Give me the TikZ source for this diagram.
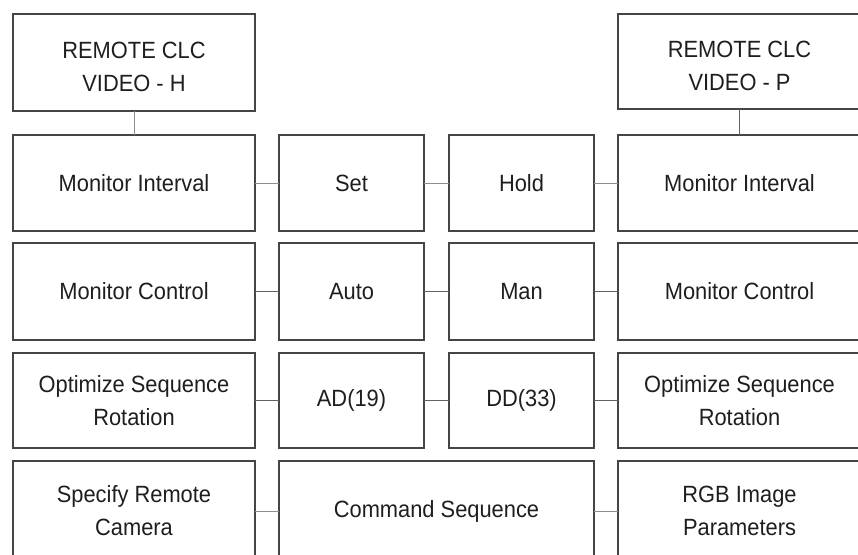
\documentclass[tikz,border=0pt]{standalone}
\usepackage{fontspec}
\setmainfont{Liberation Sans}[FakeStretch=0.93]
\definecolor{boxline}{HTML}{454545}
\definecolor{linkline}{HTML}{8C8C8C}
\definecolor{txt}{HTML}{1E1E1E}
\begin{document}
\begin{tikzpicture}[x=1pt,y=-1pt,
  box/.style={draw=boxline,line width=1.5pt,rectangle,inner sep=0pt,outer sep=0pt,
    align=center,text=txt,font=\fontsize{23.5}{33}\selectfont},
  widebox/.style={box,minimum width=242pt},
  midbox/.style={box,minimum width=145pt},
  topbox/.style={box,text height=58pt,text depth=0pt},
  link/.style={draw=linkline,line width=1pt},
  darklink/.style={draw=boxline!85,line width=1.1pt}]
\useasboundingbox (0,0) rectangle (858,554);
% top boxes
\node[topbox,minimum width=242pt,minimum height=97pt] (th) at (134,62.5) {REMOTE CLC\\VIDEO - H};
\node[topbox,minimum width=243pt,minimum height=95pt] (tp) at (739.5,61.5) {REMOTE CLC\\VIDEO - P};
% row 2
\node[widebox,minimum height=96pt] (mil) at (134,183) {Monitor Interval};
\node[midbox,minimum height=96pt] (set) at (351.5,183) {Set};
\node[midbox,minimum height=96pt] (hold) at (521.5,183) {Hold};
\node[box,minimum width=243pt,minimum height=96pt] (mir) at (739.5,183) {Monitor Interval};
% row 3
\node[widebox,minimum height=97pt] (mcl) at (134,291.5) {Monitor Control};
\node[midbox,minimum height=97pt] (auto) at (351.5,291.5) {Auto};
\node[midbox,minimum height=97pt] (man) at (521.5,291.5) {Man};
\node[box,minimum width=243pt,minimum height=97pt] (mcr) at (739.5,291.5) {Monitor Control};
% row 4
\node[widebox,minimum height=95pt] (osl) at (134,400.5) {Optimize Sequence\\Rotation};
\node[midbox,minimum height=95pt] (ad) at (351.5,400.5) {AD(19)};
\node[midbox,minimum height=95pt] (dd) at (521.5,400.5) {DD(33)};
\node[box,minimum width=243pt,minimum height=95pt] (osr) at (739.5,400.5) {Optimize Sequence\\Rotation};
% row 5
\node[widebox,minimum height=100pt] (src) at (134,511) {Specify Remote\\Camera};
\node[box,minimum width=315pt,minimum height=100pt] (cmd) at (436.5,511) {Command Sequence};
\node[box,minimum width=243pt,minimum height=100pt] (rgb) at (739.5,511) {RGB Image\\Parameters};
% connectors
\draw[link] (th.south) -- (mil.north);
\draw[darklink] (tp.south) -- (mir.north);
\draw[link] (mil.east) -- (set.west);
\draw[link] (set.east) -- (hold.west);
\draw[link] (hold.east) -- (mir.west);
\draw[darklink] (mcl.east) -- (auto.west);
\draw[darklink] (auto.east) -- (man.west);
\draw[darklink] (man.east) -- (mcr.west);
\draw[darklink] (osl.east) -- (ad.west);
\draw[darklink] (ad.east) -- (dd.west);
\draw[darklink] (dd.east) -- (osr.west);
\draw[link] (src.east) -- (cmd.west);
\draw[link] (cmd.east) -- (rgb.west);
\end{tikzpicture}
\end{document}
